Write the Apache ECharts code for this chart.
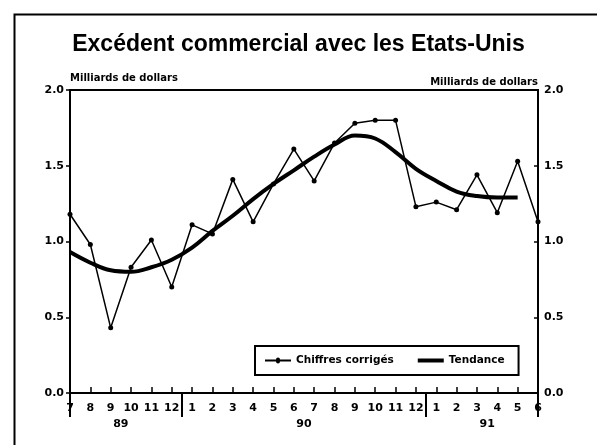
<!DOCTYPE html>
<html>
<head>
<meta charset="utf-8">
<script src="https://cdn.jsdelivr.net/npm/echarts@6/dist/echarts.min.js"></script>
<style>
  html, body { margin: 0; padding: 0; background: #fff; }
  #chart { width: 597px; height: 445px; }
</style>
</head>
<body>
<div id="chart"></div>
<script>
// months from 7/89 to 6/91
const monthKeys = ['1989-07', '1989-08', '1989-09', '1989-10', '1989-11', '1989-12',
    '1990-01', '1990-02', '1990-03', '1990-04', '1990-05', '1990-06',
    '1990-07', '1990-08', '1990-09', '1990-10', '1990-11', '1990-12',
    '1991-01', '1991-02', '1991-03', '1991-04', '1991-05', '1991-06'];
const monthLabels = ['7', '8', '9', '10', '11', '12', '1', '2', '3', '4', '5', '6',
    '7', '8', '9', '10', '11', '12', '1', '2', '3', '4', '5', '6'];

// Chiffres corrigés
const chiffres = [1.18, 0.98, 0.43, 0.83, 1.01, 0.70, 1.11, 1.05, 1.41, 1.13, 1.38, 1.61,
    1.40, 1.65, 1.78, 1.80, 1.80, 1.23, 1.26, 1.21, 1.44, 1.19, 1.53, 1.13];
// Tendance (stops at 5/91)
const tendance = [0.93, 0.86, 0.81, 0.80, 0.83, 0.88, 0.96, 1.07, 1.17, 1.28, 1.38, 1.47,
    1.56, 1.64, 1.70, 1.68, 1.59, 1.48, 1.40, 1.33, 1.30, 1.29, 1.29, null];

// year row: label positions (month index) and separators
const yearLabels = ['89', '90', '91'];
const yearCenters = [2.5, 11.5, 20.5];
const yearBreaks = [0, 5.5, 17.5, 23];

const yTicks = [0, 0.5, 1.0, 1.5, 2.0];

const chart = echarts.init(document.getElementById('chart'));
const smallFont = { fontFamily: 'DejaVu Sans', fontWeight: 'bold', fontSize: 10, color: '#000' };

const yAxisBase = {
    type: 'value',
    min: yTicks[0],
    max: yTicks[yTicks.length - 1],
    interval: 0.5,
    splitLine: { show: false },
    axisLine: { show: true, lineStyle: { color: '#000', width: 2 } },
    axisLabel: Object.assign({}, smallFont, { fontSize: 11, margin: 6, formatter: v => v.toFixed(1) }),
    name: 'Milliards de dollars',
    nameLocation: 'end'
};

let option = {
    animation: false,
    backgroundColor: '#fff',
    title: {
        text: 'Excédent commercial avec les Etats-Unis',
        left: 'center',
        top: 28,
        textStyle: { fontFamily: 'Liberation Sans', fontWeight: 'bold', fontSize: 23, color: '#000' }
    },
    graphic: [{
        type: 'rect',
        left: 12,
        top: 12,
        shape: { width: 620, height: 460 },
        style: { fill: null, stroke: '#000', lineWidth: 2 },
        silent: true
    }],
    grid: {
        left: 70,
        right: 59,
        top: 90,
        bottom: 52,
        show: true,
        borderColor: '#000',
        borderWidth: 2
    },
    legend: {
        left: 255,
        top: 346,
        padding: [9, 14, 9, 10],
        borderColor: '#000',
        borderWidth: 2,
        itemWidth: 26,
        itemHeight: 12,
        itemGap: 24,
        textStyle: Object.assign({}, smallFont, { fontSize: 10.5 }),
        data: [{
            name: 'Chiffres corrigés',
            icon: 'path://M0,5 L11,5 A2,2 0 1 1 15,5 L26,5 L26,7 L15,7 A2,2 0 1 1 11,7 L0,7 Z'
        }, {
            name: 'Tendance',
            icon: 'path://M0,0 L26,0 L26,4 L0,4 Z'
        }]
    },
    xAxis: [{
        type: 'category',
        data: monthKeys,
        boundaryGap: false,
        axisLine: { lineStyle: { color: '#000', width: 2 } },
        axisTick: { inside: true, length: 6, lineStyle: { color: '#000', width: 1.5 } },
        axisLabel: Object.assign({}, smallFont, {
            fontSize: 11,
            margin: 10,
            interval: 0,
            formatter: (v, i) => monthLabels[i]
        }),
        splitLine: { show: false }
    }, {
        type: 'value',
        min: 0,
        max: monthKeys.length - 1,
        position: 'bottom',
        offset: 10,
        axisLine: { show: false },
        axisTick: { show: true, inside: false, length: 24, customValues: yearBreaks,
            lineStyle: { color: '#000', width: 2 } },
        axisLabel: Object.assign({}, smallFont, {
            fontSize: 11,
            margin: 16,
            customValues: yearCenters,
            formatter: v => yearLabels[yearCenters.indexOf(v)] || ''
        }),
        splitLine: { show: false }
    }],
    yAxis: [Object.assign({}, yAxisBase, {
        position: 'left',
        nameGap: 7,
        nameTextStyle: Object.assign({}, smallFont, { align: 'left', verticalAlign: 'bottom' }),
        axisTick: { show: true, inside: false, length: 4, lineStyle: { color: '#000', width: 1.5 } }
    }), Object.assign({}, yAxisBase, {
        position: 'right',
        nameGap: 3,
        nameTextStyle: Object.assign({}, smallFont, { align: 'right', verticalAlign: 'bottom' }),
        axisTick: { show: true, inside: true, length: 4, lineStyle: { color: '#000', width: 1.5 } }
    })],
    series: [{
        name: 'Chiffres corrigés',
        type: 'line',
        data: chiffres,
        symbol: 'circle',
        symbolSize: 5,
        itemStyle: { color: '#000' },
        lineStyle: { color: '#000', width: 1.5 }
    }, {
        name: 'Tendance',
        type: 'line',
        data: tendance,
        smooth: 0.4,
        showSymbol: false,
        symbol: 'none',
        itemStyle: { color: '#000' },
        lineStyle: { color: '#000', width: 4 }
    }]
};

chart.setOption(option);
</script>
</body>
</html>
